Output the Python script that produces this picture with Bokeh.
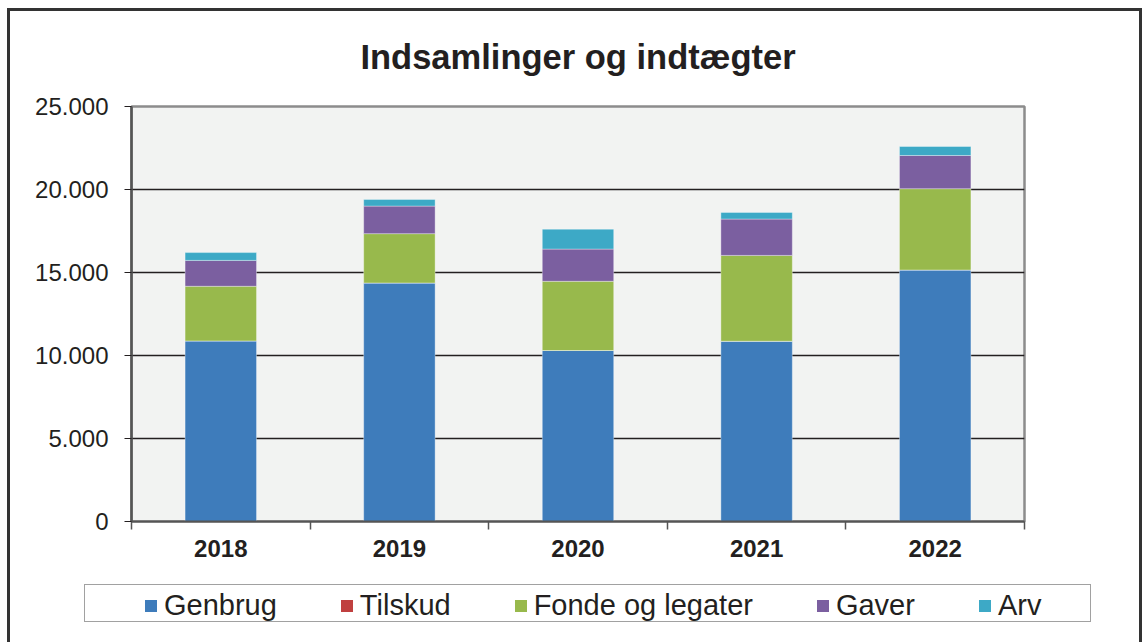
from bokeh.plotting import figure
from bokeh.layouts import column
from bokeh.models import Range1d, FixedTicker, Legend, LegendItem, ColumnDataSource, Label
from bokeh.embed import file_html
from bokeh.resources import INLINE

title_text = "Indsamlinger og indtægter"
years = ["2018", "2019", "2020", "2021", "2022"]
series = ["Genbrug", "Tilskud", "Fonde og legater", "Gaver", "Arv"]
genbrug = [10880, 14370, 10300, 10860, 15150]
tilskud = [0, 0, 0, 0, 0]
fonde = [3290, 2970, 4170, 5170, 4900]
gaver = [1560, 1660, 1940, 2190, 2000]
arv = [470, 400, 1200, 400, 540]
colors = ["#3E7CBB", "#C0403F", "#98B94C", "#7B5FA0", "#3DA9C6"]
y_ticks = [0, 5000, 10000, 15000, 20000, 25000]
y_tick_labels = ["0", "5.000", "10.000", "15.000", "20.000", "25.000"]

FONT = "Liberation Sans"
TXT = "#231F20"


def strip(h, fw=1129, left=0, right=0):
    f = figure(frame_width=fw, frame_height=h, output_backend="svg", toolbar_location=None,
               x_range=Range1d(0, 1), y_range=Range1d(0, 1), min_border=0,
               min_border_left=left, min_border_right=right,
               x_axis_location=None, y_axis_location=None,
               background_fill_color="white", border_fill_color="white")
    f.outline_line_color = None
    f.xgrid.grid_line_color = None
    f.ygrid.grid_line_color = None
    return f


# title strip, same side borders as the chart so it is centred over the plot area
tf = strip(80, fw=893, left=121, right=115)
tf.add_layout(Label(x=0.5, y=34.5, x_units="data", y_units="screen", text=title_text,
                    text_align="center", text_baseline="middle", text_font=FONT,
                    text_font_size="34.5px", text_font_style="bold", text_color=TXT))

xpos = [i + 0.5 for i in range(len(years))]
src = ColumnDataSource(dict(x=xpos, Genbrug=genbrug, Tilskud=tilskud,
                            **{"Fonde og legater": fonde}, Gaver=gaver, Arv=arv))

p = figure(frame_width=893, frame_height=415, output_backend="svg", toolbar_location=None,
           x_range=Range1d(0, len(years)), y_range=Range1d(0, 25000),
           min_border_left=121, min_border_right=115, min_border_top=15,
           min_border_bottom=55, background_fill_color="#F2F3F2",
           border_fill_color="white")

rends = p.vbar_stack(series, x="x", width=0.4, color=colors, source=src,
                     line_color="white", line_alpha=0.35, line_width=1)

# axes
p.yaxis.ticker = FixedTicker(ticks=y_ticks)
p.yaxis.major_label_overrides = {t: l for t, l in zip(y_ticks, y_tick_labels)}
p.yaxis.major_label_text_font = FONT
p.yaxis.major_label_text_font_size = "24px"
p.yaxis.major_label_text_color = TXT
p.yaxis.major_label_standoff = 16
p.yaxis.major_tick_out = 7
p.yaxis.major_tick_in = 0
p.yaxis.major_tick_line_color = TXT
p.yaxis.minor_tick_line_color = None
p.yaxis.axis_line_color = "#555555"
p.yaxis.axis_line_width = 2.5

p.xaxis.ticker = FixedTicker(ticks=xpos, minor_ticks=list(range(len(years) + 1)))
p.xaxis.major_label_overrides = {x: y for x, y in zip(xpos, years)}
p.xaxis.major_label_text_font = FONT
p.xaxis.major_label_text_font_size = "24px"
p.xaxis.major_label_text_font_style = "bold"
p.xaxis.major_label_text_color = TXT
p.xaxis.major_label_standoff = 10
p.xaxis.major_tick_line_color = None
p.xaxis.minor_tick_out = 8
p.xaxis.minor_tick_in = 0
p.xaxis.minor_tick_line_color = "#555555"
p.xaxis.minor_tick_line_width = 1.5
p.xaxis.axis_line_color = "#555555"
p.xaxis.axis_line_width = 2

p.xgrid.grid_line_color = None
p.ygrid.ticker = FixedTicker(ticks=y_ticks)
p.ygrid.grid_line_color = TXT
p.ygrid.grid_line_width = 1.5

p.outline_line_color = "#8C8C8C"
p.outline_line_width = 2.5

# legend strip below the chart
lf = strip(70)
dummy = lf.vbar(x=[0], top=[0], width=0, fill_alpha=0, line_alpha=0)
box = Legend(items=[LegendItem(label=" ", renderers=[dummy])], orientation="horizontal",
             location=(74, 24), glyph_width=1, glyph_height=1, label_standoff=0,
             label_width=996, label_height=28, label_text_font=FONT,
             label_text_font_size="29px",
             padding=4, margin=0, border_line_color="#444444", border_line_width=1.5,
             background_fill_color="white", background_fill_alpha=1)
lf.add_layout(box, "center")

proxies = [lf.vbar(x=[0], top=[0], width=0, fill_color=c, line_alpha=0) for c in colors]
items = [LegendItem(label=s, renderers=[r]) for s, r in zip(series, proxies)]
legend = Legend(items=items, orientation="horizontal", location=(133, 24),
                label_text_font=FONT, label_text_font_size="29px",
                label_text_color=TXT, glyph_width=15, glyph_height=15,
                label_standoff=6, spacing=62, padding=4, margin=0, label_height=28,
                border_line_color=None, background_fill_alpha=0)
lf.add_layout(legend, "center")

layout = column(tf, p, lf, spacing=0)
layout.styles = {"border": "3px solid #333333", "margin-left": "7px", "margin-top": "8px"}

open("out.html", "w").write(file_html(layout, INLINE))
